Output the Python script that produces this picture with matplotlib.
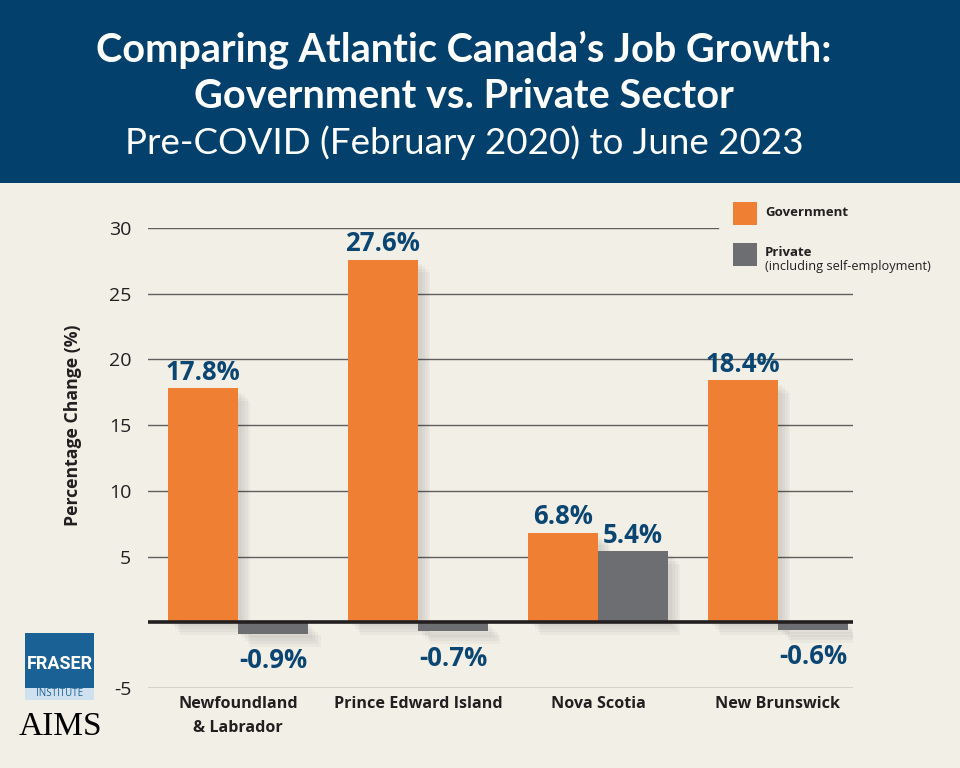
import matplotlib
matplotlib.use("Agg")
import matplotlib.pyplot as plt
import matplotlib.patheffects as pe
from matplotlib.patches import Rectangle
import numpy as np

# data
provinces = ["Newfoundland\n& Labrador", "Prince Edward Island", "Nova Scotia", "New Brunswick"]
government = [17.8, 27.6, 6.8, 18.4]
private = [-0.9, -0.7, 5.4, -0.6]
yticks = [-5, 5, 10, 15, 20, 25, 30]

BG = "#f2efe7"
NAVY = "#03416c"
ORANGE = "#ee7f33"
GREY = "#6d6e71"
LABEL_BLUE = "#0b4672"
DARK = "#231f20"

fig = plt.figure(figsize=(9.6, 7.68), dpi=100, facecolor=BG)

# header band
fig.patches.append(Rectangle((0, 1 - 183 / 768), 1, 183 / 768, transform=fig.transFigure,
                             facecolor=NAVY, edgecolor="none", zorder=0))
fig.text(0.4835, 1 - 50 / 768, "Comparing Atlantic Canada\u2019s Job Growth:", color="white",
         fontsize=28.5, fontweight="bold", family="Lato", ha="center", va="center")
fig.text(0.4835, 1 - 97 / 768, "Government vs. Private Sector", color="white",
         fontsize=28.5, fontweight="bold", family="Lato", ha="center", va="center")
fig.text(0.4835, 1 - 143 / 768, "Pre-COVID (February 2020) to June 2023", color="white",
         fontsize=26.5, fontweight="normal", family="Lato", ha="center", va="center")

ax = fig.add_axes([148 / 960, 80 / 768, 705 / 960, 460 / 768])
ax.set_facecolor(BG)
ax.set_xlim(-0.5, 3.417)
ax.set_ylim(-5, 30)
for s in ax.spines.values():
    s.set_visible(False)

# grid lines (top one stops short of the legend)
for t in yticks:
    xmax = 0.8085 if t == 30 else 1
    ax.axhline(t, xmin=0, xmax=xmax, color="#5f5f5f", lw=1, zorder=1)
ax.axhline(0, color=DARK, lw=2.6, zorder=4)

x = np.arange(len(provinces))
w = 0.389
shadow = [pe.SimplePatchShadow(offset=(d, -d), shadow_rgbFace="#000000", alpha=0.03)
          for d in (9, 7, 5, 3)] + [pe.Normal()]
b1 = ax.bar(x - w / 2, government, w, color=ORANGE, zorder=3, path_effects=shadow)
b2 = ax.bar(x + w / 2, private, w, color=GREY, zorder=3, path_effects=shadow)

for xi, v in zip(x - w / 2, government):
    ax.text(xi, v + 0.2, f"{v}%", ha="center", va="bottom", color=LABEL_BLUE,
            fontsize=18.5, fontweight="bold", family="Open Sans", zorder=5)
for xi, v in zip(x + w / 2, private):
    if v >= 0:
        ax.text(xi, v + 0.2, f"{v}%", ha="center", va="bottom", color=LABEL_BLUE,
                fontsize=18.5, fontweight="bold", family="Open Sans", zorder=5)
    else:
        ax.text(xi, v - 1.0, f"{v}%", ha="center", va="top", color=LABEL_BLUE,
                fontsize=18.5, fontweight="bold", family="Open Sans", zorder=5)

ax.set_yticks(yticks)
ax.set_yticklabels([str(t) for t in yticks], family="Open Sans", fontsize=14, color=DARK)
ax.tick_params(axis="y", length=0, pad=12)
ax.set_xticks(x)
ax.set_xticklabels(provinces, family="Open Sans", fontsize=11.6, fontweight="bold",
                   color=DARK, linespacing=1.65)
ax.tick_params(axis="x", length=0, pad=6)
ax.set_ylabel("Percentage Change (%)", family="Open Sans", fontsize=12.7,
              fontweight="bold", color=DARK)
ax.yaxis.set_label_coords(-0.094, 0.572)

# legend
fig.patches.append(Rectangle((733 / 960, 1 - 225 / 768), 24 / 960, 23 / 768,
                             transform=fig.transFigure, facecolor=ORANGE, edgecolor="none"))
fig.patches.append(Rectangle((733 / 960, 1 - 266 / 768), 24 / 960, 23 / 768,
                             transform=fig.transFigure, facecolor=GREY, edgecolor="none"))
fig.text(765 / 960, 1 - 212 / 768, "Government", family="Open Sans", fontsize=9.5,
         fontweight="bold", color=DARK, va="center")
fig.text(765 / 960, 1 - 252 / 768, "Private", family="Open Sans", fontsize=9.5,
         fontweight="bold", color=DARK, va="center")
fig.text(765 / 960, 1 - 266 / 768, "(including self-employment)", family="Open Sans",
         fontsize=9.2, color=DARK, va="center")

# logos
fig.patches.append(Rectangle((25 / 960, 1 - 688 / 768), 69 / 960, 55 / 768,
                             transform=fig.transFigure, facecolor="#1a6296", edgecolor="none"))
fig.patches.append(Rectangle((25 / 960, 1 - 700 / 768), 69 / 960, 12 / 768,
                             transform=fig.transFigure, facecolor="#cfe0ee", edgecolor="none"))
fig.text(59.5 / 960, 1 - 664 / 768, "FRASER", family="Roboto", fontsize=13,
         fontweight="bold", color="white", ha="center", va="center", stretch="condensed")
fig.text(59.5 / 960, 1 - 694 / 768, "INSTITUTE", family="Open Sans", fontsize=7,
         color="#1a6296", ha="center", va="center")
fig.text(60 / 960, 1 - 727 / 768, "AIMS", family="Liberation Serif", fontsize=24,
         color="black", ha="center", va="center")

fig.savefig("out.png", dpi=100, facecolor=BG)
